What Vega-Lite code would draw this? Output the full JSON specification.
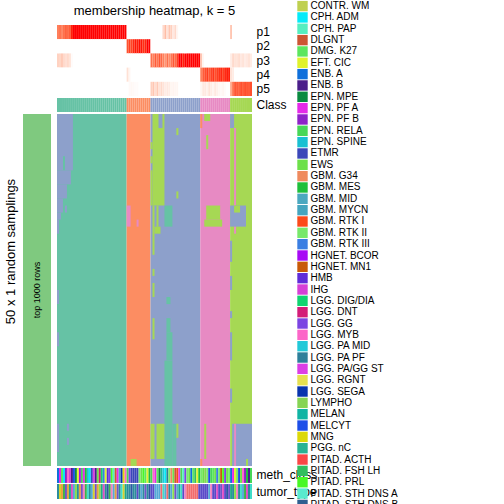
{
  "$schema": "https://vega.github.io/schema/vega-lite/v6.json",
  "padding": {"left": 4, "top": 0, "right": 0, "bottom": 0},
  "bounds": "flush",
  "config": {"view": {"stroke": null}, "font": "Liberation Sans", "axis": {"labelColor": "black", "titleColor": "black"}},
  "datasets": {
    "samples": [
      {"s":0,"p1":0.66,"p2":0,"p3":0.24,"p4":0,"p5":0,"cls":1,"meth":"ENB. A","tumor":"Glioblastoma"},
      {"s":1,"p1":0.70,"p2":0,"p3":0.22,"p4":0,"p5":0,"cls":1,"meth":"EPN. PF A","tumor":"Embryonal"},
      {"s":2,"p1":0.62,"p2":0,"p3":0.28,"p4":0,"p5":0,"cls":1,"meth":"DMG. K27","tumor":"Ependymal"},
      {"s":3,"p1":0.72,"p2":0,"p3":0.20,"p4":0,"p5":0,"cls":1,"meth":"CPH. ADM","tumor":"Glioneuronal"},
      {"s":4,"p1":0.78,"p2":0,"p3":0.17,"p4":0,"p5":0,"cls":1,"meth":"EPN. PF B","tumor":"Pilocytic"},
      {"s":5,"p1":0.74,"p2":0,"p3":0.20,"p4":0,"p5":0,"cls":1,"meth":"LGG. MYB","tumor":"Ependymal"},
      {"s":6,"p1":0.80,"p2":0,"p3":0.15,"p4":0,"p5":0,"cls":1,"meth":"IHG","tumor":"Glioma"},
      {"s":7,"p1":0.97,"p2":0,"p3":0.02,"p4":0,"p5":0,"cls":1,"meth":"ENB. B","tumor":"Choroid"},
      {"s":8,"p1":1,"p2":0,"p3":0,"p4":0,"p5":0,"cls":1,"meth":"MELCYT","tumor":"Sellar"},
      {"s":9,"p1":1,"p2":0,"p3":0,"p4":0,"p5":0,"cls":1,"meth":"EPN. MPE","tumor":"Control"},
      {"s":10,"p1":1,"p2":0,"p3":0,"p4":0,"p5":0,"cls":1,"meth":"EFT. CIC","tumor":"Glioblastoma"},
      {"s":11,"p1":1,"p2":0,"p3":0,"p4":0,"p5":0,"cls":1,"meth":"HGNET. BCOR","tumor":"Ependymal"},
      {"s":12,"p1":1,"p2":0,"p3":0,"p4":0,"p5":0,"cls":1,"meth":"EPN. RELA","tumor":"Pilocytic"},
      {"s":13,"p1":1,"p2":0,"p3":0,"p4":0,"p5":0,"cls":1,"meth":"EPN. PF A","tumor":"Melanocytic"},
      {"s":14,"p1":1,"p2":0,"p3":0,"p4":0,"p5":0,"cls":1,"meth":"GBM. MES","tumor":"Glioneuronal"},
      {"s":15,"p1":1,"p2":0,"p3":0,"p4":0,"p5":0,"cls":1,"meth":"EPN. SPINE","tumor":"Mesenchymal"},
      {"s":16,"p1":1,"p2":0,"p3":0,"p4":0,"p5":0,"cls":1,"meth":"CPH. ADM","tumor":"Glioblastoma"},
      {"s":17,"p1":1,"p2":0,"p3":0,"p4":0,"p5":0,"cls":1,"meth":"ETMR","tumor":"Sellar"},
      {"s":18,"p1":1,"p2":0,"p3":0,"p4":0,"p5":0,"cls":1,"meth":"LGG. PA/GG ST","tumor":"Embryonal"},
      {"s":19,"p1":1,"p2":0,"p3":0,"p4":0,"p5":0,"cls":1,"meth":"ENB. B","tumor":"Pilocytic"},
      {"s":20,"p1":1,"p2":0,"p3":0,"p4":0,"p5":0,"cls":1,"meth":"EWS","tumor":"Ependymal"},
      {"s":21,"p1":1,"p2":0,"p3":0,"p4":0,"p5":0,"cls":1,"meth":"LGG. DNT","tumor":"Control"},
      {"s":22,"p1":1,"p2":0,"p3":0,"p4":0,"p5":0,"cls":1,"meth":"LGG. DIG/DIA","tumor":"Glioma"},
      {"s":23,"p1":1,"p2":0,"p3":0,"p4":0,"p5":0,"cls":1,"meth":"GBM. RTK III","tumor":"Choroid"},
      {"s":24,"p1":1,"p2":0,"p3":0,"p4":0,"p5":0,"cls":1,"meth":"EFT. CIC","tumor":"Glioblastoma"},
      {"s":25,"p1":1,"p2":0,"p3":0,"p4":0,"p5":0,"cls":1,"meth":"HMB","tumor":"Lymphoma"},
      {"s":26,"p1":1,"p2":0,"p3":0,"p4":0,"p5":0,"cls":1,"meth":"LGG. GG","tumor":"Glioneuronal"},
      {"s":27,"p1":1,"p2":0,"p3":0,"p4":0,"p5":0,"cls":1,"meth":"PITAD. PRL","tumor":"Melanocytic"},
      {"s":28,"p1":1,"p2":0,"p3":0,"p4":0,"p5":0,"cls":1,"meth":"CPH. PAP","tumor":"Sellar"},
      {"s":29,"p1":1,"p2":0,"p3":0,"p4":0,"p5":0,"cls":1,"meth":"DLGNT","tumor":"Ependymal"},
      {"s":30,"p1":1,"p2":0,"p3":0,"p4":0,"p5":0,"cls":1,"meth":"EPN. PF A","tumor":"Pilocytic"},
      {"s":31,"p1":1,"p2":0,"p3":0,"p4":0,"p5":0,"cls":1,"meth":"GBM. MID","tumor":"Glioblastoma"},
      {"s":32,"p1":1,"p2":0,"p3":0,"p4":0,"p5":0,"cls":1,"meth":"LGG. SEGA","tumor":"Mesenchymal"},
      {"s":33,"p1":1,"p2":0,"p3":0,"p4":0,"p5":0,"cls":1,"meth":"MNG","tumor":"Embryonal"},
      {"s":34,"p1":1,"p2":0,"p3":0,"p4":0,"p5":0,"cls":1,"meth":"LGG. MYB","tumor":"Glioma"},
      {"s":35,"p1":0,"p2":0.84,"p3":0,"p4":0.16,"p5":0,"cls":2,"meth":"EPN. RELA","tumor":"Glioblastoma"},
      {"s":36,"p1":0,"p2":0.90,"p3":0,"p4":0.05,"p5":0.03,"cls":2,"meth":"LGG. GG","tumor":"Glioblastoma"},
      {"s":37,"p1":0,"p2":0.88,"p3":0,"p4":0,"p5":0.04,"cls":2,"meth":"ETMR","tumor":"Lymphoma"},
      {"s":38,"p1":0,"p2":0.95,"p3":0,"p4":0,"p5":0.03,"cls":2,"meth":"ETMR","tumor":"Glioblastoma"},
      {"s":39,"p1":0,"p2":0.98,"p3":0,"p4":0,"p5":0.02,"cls":2,"meth":"ETMR","tumor":"Glioblastoma"},
      {"s":40,"p1":0,"p2":0.97,"p3":0,"p4":0,"p5":0.02,"cls":2,"meth":"ETMR","tumor":"Pineal"},
      {"s":41,"p1":0,"p2":0.99,"p3":0,"p4":0,"p5":0,"cls":2,"meth":"GBM. RTK II","tumor":"Glioblastoma"},
      {"s":42,"p1":0,"p2":0.98,"p3":0,"p4":0,"p5":0,"cls":2,"meth":"EWS","tumor":"Sellar"},
      {"s":43,"p1":0,"p2":0.94,"p3":0,"p4":0,"p5":0,"cls":2,"meth":"PITAD. PRL","tumor":"Glioblastoma"},
      {"s":44,"p1":0,"p2":0.96,"p3":0,"p4":0,"p5":0,"cls":2,"meth":"DMG. K27","tumor":"Pilocytic"},
      {"s":45,"p1":0,"p2":1,"p3":0,"p4":0,"p5":0,"cls":2,"meth":"EFT. CIC","tumor":"Glioblastoma"},
      {"s":46,"p1":0,"p2":1,"p3":0,"p4":0,"p5":0,"cls":2,"meth":"GBM. MES","tumor":"Lymphoma"},
      {"s":47,"p1":0,"p2":0,"p3":0.72,"p4":0,"p5":0.25,"cls":3,"meth":"EPN. RELA","tumor":"Pineal"},
      {"s":48,"p1":0,"p2":0,"p3":0.65,"p4":0,"p5":0.30,"cls":3,"meth":"LGG. MYB","tumor":"Pineal"},
      {"s":49,"p1":0,"p2":0,"p3":0.80,"p4":0,"p5":0.18,"cls":3,"meth":"EPN. PF A","tumor":"Sellar"},
      {"s":50,"p1":0,"p2":0,"p3":0.70,"p4":0,"p5":0.28,"cls":3,"meth":"DMG. K27","tumor":"Sellar"},
      {"s":51,"p1":0,"p2":0,"p3":0.82,"p4":0,"p5":0.15,"cls":3,"meth":"EPN. MPE","tumor":"Sellar"},
      {"s":52,"p1":0,"p2":0,"p3":0.75,"p4":0,"p5":0.20,"cls":3,"meth":"PGG. nC","tumor":"Pituitary"},
      {"s":53,"p1":0.20,"p2":0,"p3":0.65,"p4":0,"p5":0.15,"cls":3,"meth":"LGG. PA MID","tumor":"Mesenchymal"},
      {"s":54,"p1":0.35,"p2":0,"p3":0.55,"p4":0,"p5":0.10,"cls":3,"meth":"CPH. ADM","tumor":"Sellar"},
      {"s":55,"p1":0.15,"p2":0,"p3":0.72,"p4":0,"p5":0.12,"cls":3,"meth":"LGG. PA PF","tumor":"Pituitary"},
      {"s":56,"p1":0.30,"p2":0,"p3":0.60,"p4":0,"p5":0.10,"cls":3,"meth":"GBM. RTK II","tumor":"Glioblastoma"},
      {"s":57,"p1":0.25,"p2":0,"p3":0.70,"p4":0,"p5":0.05,"cls":3,"meth":"GBM. G34","tumor":"Sellar"},
      {"s":58,"p1":0.12,"p2":0,"p3":0.82,"p4":0,"p5":0.06,"cls":3,"meth":"EWS","tumor":"Control"},
      {"s":59,"p1":0.20,"p2":0,"p3":0.75,"p4":0,"p5":0.05,"cls":3,"meth":"DLGNT","tumor":"Pilocytic"},
      {"s":60,"p1":0.05,"p2":0,"p3":0.90,"p4":0,"p5":0.05,"cls":3,"meth":"GBM. RTK I","tumor":"Sellar"},
      {"s":61,"p1":0,"p2":0,"p3":1,"p4":0,"p5":0,"cls":3,"meth":"LGG. PA/GG ST","tumor":"Glioma"},
      {"s":62,"p1":0,"p2":0,"p3":1,"p4":0,"p5":0,"cls":3,"meth":"EPN. RELA","tumor":"Mesenchymal"},
      {"s":63,"p1":0,"p2":0,"p3":0.97,"p4":0,"p5":0,"cls":3,"meth":"CPH. PAP","tumor":"Pineal"},
      {"s":64,"p1":0,"p2":0,"p3":1,"p4":0,"p5":0,"cls":3,"meth":"LGG. GG","tumor":"Melanocytic"},
      {"s":65,"p1":0,"p2":0,"p3":1,"p4":0,"p5":0,"cls":3,"meth":"GBM. RTK II","tumor":"Pituitary"},
      {"s":66,"p1":0,"p2":0,"p3":1,"p4":0,"p5":0,"cls":3,"meth":"EWS","tumor":"Pituitary"},
      {"s":67,"p1":0,"p2":0,"p3":1,"p4":0,"p5":0,"cls":3,"meth":"ENB. A","tumor":"Pituitary"},
      {"s":68,"p1":0,"p2":0,"p3":1,"p4":0,"p5":0,"cls":3,"meth":"DMG. K27","tumor":"Pituitary"},
      {"s":69,"p1":0,"p2":0,"p3":1,"p4":0,"p5":0,"cls":3,"meth":"PITAD. FSH LH","tumor":"Pituitary"},
      {"s":70,"p1":0,"p2":0,"p3":1,"p4":0,"p5":0,"cls":3,"meth":"EFT. CIC","tumor":"Pituitary"},
      {"s":71,"p1":0,"p2":0,"p3":1,"p4":0,"p5":0,"cls":3,"meth":"GBM. MES","tumor":"Pineal"},
      {"s":72,"p1":0,"p2":0,"p3":0.30,"p4":0.65,"p5":0.05,"cls":4,"meth":"GBM. RTK II","tumor":"Pineal"},
      {"s":73,"p1":0,"p2":0,"p3":0.05,"p4":0.80,"p5":0.12,"cls":4,"meth":"EWS","tumor":"Pineal"},
      {"s":74,"p1":0,"p2":0,"p3":0,"p4":0.85,"p5":0.12,"cls":4,"meth":"LYMPHO","tumor":"Pineal"},
      {"s":75,"p1":0,"p2":0,"p3":0,"p4":0.90,"p5":0.08,"cls":4,"meth":"GBM. RTK II","tumor":"Pineal"},
      {"s":76,"p1":0,"p2":0,"p3":0,"p4":0.82,"p5":0.15,"cls":4,"meth":"MELCYT","tumor":"Sellar"},
      {"s":77,"p1":0,"p2":0,"p3":0,"p4":0.88,"p5":0.10,"cls":4,"meth":"EPN. RELA","tumor":"Melanocytic"},
      {"s":78,"p1":0,"p2":0,"p3":0,"p4":0.92,"p5":0.06,"cls":4,"meth":"DMG. K27","tumor":"Pineal"},
      {"s":79,"p1":0,"p2":0,"p3":0,"p4":0.85,"p5":0.12,"cls":4,"meth":"EWS","tumor":"Pineal"},
      {"s":80,"p1":0,"p2":0,"p3":0,"p4":0.90,"p5":0.08,"cls":4,"meth":"GBM. RTK III","tumor":"Choroid"},
      {"s":81,"p1":0,"p2":0,"p3":0,"p4":0.93,"p5":0.05,"cls":4,"meth":"GBM. RTK II","tumor":"Pineal"},
      {"s":82,"p1":0,"p2":0,"p3":0,"p4":0.95,"p5":0.03,"cls":4,"meth":"HGNET. MN1","tumor":"Pilocytic"},
      {"s":83,"p1":0,"p2":0,"p3":0,"p4":0.90,"p5":0.05,"cls":4,"meth":"PITAD. PRL","tumor":"Choroid"},
      {"s":84,"p1":0,"p2":0,"p3":0,"p4":0.95,"p5":0.02,"cls":4,"meth":"LGG. GG","tumor":"Pineal"},
      {"s":85,"p1":0,"p2":0,"p3":0,"p4":0.97,"p5":0,"cls":4,"meth":"EWS","tumor":"Lymphoma"},
      {"s":86,"p1":0,"p2":0,"p3":0,"p4":0.97,"p5":0,"cls":4,"meth":"GBM. RTK II","tumor":"Pilocytic"},
      {"s":87,"p1":0.30,"p2":0,"p3":0.10,"p4":0.15,"p5":0.45,"cls":5,"meth":"ENB. A","tumor":"Glioma"},
      {"s":88,"p1":0,"p2":0,"p3":0.20,"p4":0.10,"p5":0.70,"cls":5,"meth":"EPN. PF A","tumor":"Glioblastoma"},
      {"s":89,"p1":0,"p2":0,"p3":0.15,"p4":0,"p5":0.82,"cls":5,"meth":"EFT. CIC","tumor":"Control"},
      {"s":90,"p1":0,"p2":0,"p3":0.15,"p4":0,"p5":0.80,"cls":5,"meth":"GBM. RTK II","tumor":"Melanocytic"},
      {"s":91,"p1":0,"p2":0,"p3":0.18,"p4":0,"p5":0.78,"cls":5,"meth":"MELCYT","tumor":"Glioblastoma"},
      {"s":92,"p1":0,"p2":0,"p3":0.12,"p4":0,"p5":0.85,"cls":5,"meth":"EWS","tumor":"Mesenchymal"},
      {"s":93,"p1":0,"p2":0,"p3":0.15,"p4":0,"p5":0.80,"cls":5,"meth":"LGG. MYB","tumor":"Sellar"},
      {"s":94,"p1":0,"p2":0,"p3":0.10,"p4":0,"p5":0.85,"cls":5,"meth":"EPN. PF B","tumor":"Glioneuronal"},
      {"s":95,"p1":0,"p2":0,"p3":0.12,"p4":0,"p5":0.82,"cls":5,"meth":"GBM. MES","tumor":"Choroid"},
      {"s":96,"p1":0,"p2":0,"p3":0.15,"p4":0,"p5":0.80,"cls":5,"meth":"ENB. B","tumor":"Glioblastoma"},
      {"s":97,"p1":0,"p2":0,"p3":0.10,"p4":0,"p5":0.85,"cls":5,"meth":"EPN. RELA","tumor":"Mesenchymal"}
    ],
    "runs": [
      {"s0":0,"s1":35,"r0":0,"r1":50,"cls":1},
      {"s0":35,"s1":47,"r0":0,"r1":50,"cls":2},
      {"s0":47,"s1":72,"r0":0,"r1":50,"cls":3},
      {"s0":72,"s1":87,"r0":0,"r1":50,"cls":4},
      {"s0":87,"s1":98,"r0":0,"r1":50,"cls":5},
      {"s0":0,"s1":8,"r0":0,"r1":8,"cls":3},
      {"s0":3,"s1":4,"r0":6,"r1":9,"cls":1},
      {"s0":0,"s1":7,"r0":8,"r1":10,"cls":3},
      {"s0":0,"s1":5,"r0":10,"r1":12,"cls":3},
      {"s0":0,"s1":3,"r0":12,"r1":14,"cls":3},
      {"s0":4,"s1":5,"r0":13,"r1":14,"cls":3},
      {"s0":0,"s1":2,"r0":14,"r1":15,"cls":3},
      {"s0":0,"s1":1,"r0":15,"r1":17,"cls":3},
      {"s0":0,"s1":1,"r0":25,"r1":27,"cls":3},
      {"s0":0,"s1":1,"r0":31,"r1":33,"cls":3},
      {"s0":0,"s1":1,"r0":44,"r1":48,"cls":3},
      {"s0":5,"s1":6,"r0":44,"r1":45,"cls":3},
      {"s0":5,"s1":6,"r0":46,"r1":47,"cls":3},
      {"s0":35,"s1":37,"r0":13,"r1":16,"cls":4},
      {"s0":40,"s1":41,"r0":15,"r1":16,"cls":4},
      {"s0":37,"s1":40,"r0":49,"r1":50,"cls":5},
      {"s0":48,"s1":54,"r0":0,"r1":13,"cls":5},
      {"s0":51,"s1":53,"r0":0,"r1":2,"cls":3},
      {"s0":47,"s1":48,"r0":4,"r1":5,"cls":5},
      {"s0":47,"s1":48,"r0":6,"r1":7,"cls":5},
      {"s0":47,"s1":48,"r0":8,"r1":13,"cls":5},
      {"s0":48,"s1":49,"r0":13,"r1":20,"cls":5},
      {"s0":50,"s1":51,"r0":13,"r1":16,"cls":5},
      {"s0":49,"s1":52,"r0":16,"r1":17,"cls":5},
      {"s0":48,"s1":49,"r0":22,"r1":23,"cls":5},
      {"s0":60,"s1":61,"r0":2,"r1":3,"cls":5},
      {"s0":60,"s1":61,"r0":11,"r1":12,"cls":5},
      {"s0":54,"s1":58,"r0":13,"r1":16,"cls":1},
      {"s0":48,"s1":49,"r0":24,"r1":26,"cls":5},
      {"s0":48,"s1":49,"r0":29,"r1":32,"cls":5},
      {"s0":55,"s1":57,"r0":26,"r1":27,"cls":1},
      {"s0":55,"s1":57,"r0":29,"r1":31,"cls":1},
      {"s0":55,"s1":58,"r0":31,"r1":35,"cls":1},
      {"s0":54,"s1":58,"r0":35,"r1":50,"cls":1},
      {"s0":58,"s1":60,"r0":44,"r1":50,"cls":1},
      {"s0":47,"s1":49,"r0":44,"r1":49,"cls":5},
      {"s0":50,"s1":54,"r0":44,"r1":49,"cls":5},
      {"s0":60,"s1":61,"r0":44,"r1":46,"cls":5},
      {"s0":72,"s1":73,"r0":0,"r1":2,"cls":2},
      {"s0":72,"s1":73,"r0":49,"r1":50,"cls":2},
      {"s0":74,"s1":77,"r0":0,"r1":1,"cls":5},
      {"s0":75,"s1":76,"r0":3,"r1":5,"cls":5},
      {"s0":75,"s1":82,"r0":13,"r1":15,"cls":5},
      {"s0":74,"s1":83,"r0":15,"r1":16,"cls":5},
      {"s0":74,"s1":75,"r0":44,"r1":49,"cls":5},
      {"s0":87,"s1":89,"r0":0,"r1":2,"cls":3},
      {"s0":89,"s1":90,"r0":2,"r1":17,"cls":4},
      {"s0":87,"s1":95,"r0":13,"r1":16,"cls":3},
      {"s0":89,"s1":92,"r0":13,"r1":14,"cls":5},
      {"s0":87,"s1":88,"r0":18,"r1":21,"cls":3},
      {"s0":87,"s1":88,"r0":23,"r1":25,"cls":3},
      {"s0":87,"s1":88,"r0":28,"r1":29,"cls":3},
      {"s0":87,"s1":88,"r0":31,"r1":35,"cls":3},
      {"s0":87,"s1":88,"r0":39,"r1":41,"cls":3},
      {"s0":88,"s1":98,"r0":44,"r1":50,"cls":3},
      {"s0":89,"s1":90,"r0":44,"r1":50,"cls":4},
      {"s0":95,"s1":96,"r0":49,"r1":50,"cls":5}
    ],
    "methLegend": [
      {"name":"CONTR. WM"},{"name":"CPH. ADM"},{"name":"CPH. PAP"},{"name":"DLGNT"},{"name":"DMG. K27"},
      {"name":"EFT. CIC"},{"name":"ENB. A"},{"name":"ENB. B"},{"name":"EPN. MPE"},{"name":"EPN. PF A"},
      {"name":"EPN. PF B"},{"name":"EPN. RELA"},{"name":"EPN. SPINE"},{"name":"ETMR"},{"name":"EWS"},
      {"name":"GBM. G34"},{"name":"GBM. MES"},{"name":"GBM. MID"},{"name":"GBM. MYCN"},{"name":"GBM. RTK I"},
      {"name":"GBM. RTK II"},{"name":"GBM. RTK III"},{"name":"HGNET. BCOR"},{"name":"HGNET. MN1"},{"name":"HMB"},
      {"name":"IHG"},{"name":"LGG. DIG/DIA"},{"name":"LGG. DNT"},{"name":"LGG. GG"},{"name":"LGG. MYB"},
      {"name":"LGG. PA MID"},{"name":"LGG. PA PF"},{"name":"LGG. PA/GG ST"},{"name":"LGG. RGNT"},{"name":"LGG. SEGA"},
      {"name":"LYMPHO"},{"name":"MELAN"},{"name":"MELCYT"},{"name":"MNG"},{"name":"PGG. nC"},
      {"name":"PITAD. ACTH"},{"name":"PITAD. FSH LH"},{"name":"PITAD. PRL"},{"name":"PITAD. STH DNS A"},{"name":"PITAD. STH DNS B"}
    ]
  },
  "resolve": {"scale": {"color": "independent"}},
  "spacing": 274.5,
  "hconcat": [
    {
      "columns": 2,
      "align": "each",
      "spacing": {"row": 2, "column": 6},
      "resolve": {"scale": {"color": "independent"}},
      "concat": [
        {"width": 28, "height": 2, "data": {"values": []}, "mark": "rect", "encoding": {}},
        {"width": 195, "height": 2, "data": {"values": []}, "mark": "rect", "encoding": {}},
        {"width": 28, "height": 71, "data": {"values": []}, "mark": "rect", "encoding": {}},
        {
          "width": 195, "height": 71,
          "title": {"text": "membership heatmap, k = 5", "fontSize": 13, "fontWeight": "normal", "anchor": "middle", "offset": 7, "color": "black"},
          "data": {"name": "samples"},
          "transform": [{"fold": ["p1", "p2", "p3", "p4", "p5"], "as": ["key", "value"]}],
          "mark": "rect",
          "encoding": {
            "x": {"field": "s", "type": "ordinal", "scale": {"paddingInner": 0, "paddingOuter": 0}, "axis": null},
            "y": {"field": "key", "type": "nominal", "scale": {"paddingInner": 0, "paddingOuter": 0}, "axis": {"orient": "right", "title": null, "ticks": false, "domain": false, "labelPadding": 4, "labelFontSize": 12}},
            "color": {"field": "value", "type": "quantitative", "scale": {"domain": [0, 1], "range": ["#ffffff", "#ff0000"], "interpolate": "lab"}, "legend": null}
          }
        },
        {"width": 28, "height": 14, "data": {"values": []}, "mark": "rect", "encoding": {}},
        {
          "width": 195, "height": 14,
          "data": {"name": "samples"},
          "mark": "rect",
          "encoding": {
            "x": {"field": "s", "type": "ordinal", "scale": {"paddingInner": 0, "paddingOuter": 0}, "axis": null},
            "y": {"datum": "Class", "type": "nominal", "scale": {"paddingInner": 0, "paddingOuter": 0}, "axis": {"orient": "right", "title": null, "ticks": false, "domain": false, "labelPadding": 4, "labelFontSize": 12}},
            "color": {"field": "cls", "type": "nominal", "scale": {"domain": [1, 2, 3, 4, 5], "range": ["#66C2A5", "#FC8D62", "#8DA0CB", "#E78AC3", "#A6D854"]}, "legend": null}
          }
        },
        {
          "width": 28, "height": 352,
          "data": {"values": [{"group": "top 1000 rows"}]},
          "encoding": {
            "y": {"field": "group", "type": "nominal", "scale": {"paddingInner": 0, "paddingOuter": 0},
                  "axis": {"title": "50 x 1 random samplings", "labels": false, "ticks": false, "domain": false, "titleFontSize": 13, "titleFontWeight": "normal", "titlePadding": 6, "titleY": 137}}
          },
          "layer": [
            {"mark": {"type": "rect", "color": "#7FC97F"}},
            {"mark": {"type": "text", "angle": 270, "fontSize": 9, "color": "black"}, "encoding": {"text": {"field": "group"}}}
          ]
        },
        {
          "width": 195, "height": 352,
          "data": {"name": "runs"},
          "mark": "rect",
          "encoding": {
            "x": {"field": "s0", "type": "quantitative", "scale": {"domain": [0, 98], "nice": false, "zero": false}, "axis": null},
            "x2": {"field": "s1"},
            "y": {"field": "r0", "type": "quantitative", "scale": {"domain": [0, 50], "nice": false, "zero": false, "reverse": true}, "axis": null},
            "y2": {"field": "r1"},
            "color": {"field": "cls", "type": "nominal", "scale": {"domain": [1, 2, 3, 4, 5], "range": ["#66C2A5", "#FC8D62", "#8DA0CB", "#E78AC3", "#A6D854"]}, "legend": null}
          }
        },
        {"width": 28, "height": 31, "data": {"values": []}, "mark": "rect", "encoding": {}},
        {
          "width": 195, "height": 31,
          "data": {"name": "samples"},
          "encoding": {
            "x": {"field": "s", "type": "ordinal", "scale": {"paddingInner": 0, "paddingOuter": 0}, "axis": null}
          },
          "resolve": {"scale": {"color": "independent"}},
          "layer": [
            {
              "mark": "rect",
              "encoding": {
                "y": {"datum": "meth_class", "type": "nominal", "scale": {"domain": ["meth_class", "tumor_type"], "paddingInner": 0.07, "paddingOuter": 0}, "axis": {"orient": "right", "title": null, "ticks": false, "domain": false, "labelPadding": 4, "labelFontSize": 12}},
                "color": {"field": "meth", "type": "nominal",
                  "scale": {"domain": ["CONTR. WM","CPH. ADM","CPH. PAP","DLGNT","DMG. K27","EFT. CIC","ENB. A","ENB. B","EPN. MPE","EPN. PF A","EPN. PF B","EPN. RELA","EPN. SPINE","ETMR","EWS","GBM. G34","GBM. MES","GBM. MID","GBM. MYCN","GBM. RTK I","GBM. RTK II","GBM. RTK III","HGNET. BCOR","HGNET. MN1","HMB","IHG","LGG. DIG/DIA","LGG. DNT","LGG. GG","LGG. MYB","LGG. PA MID","LGG. PA PF","LGG. PA/GG ST","LGG. RGNT","LGG. SEGA","LYMPHO","MELAN","MELCYT","MNG","PGG. nC","PITAD. ACTH","PITAD. FSH LH","PITAD. PRL","PITAD. STH DNS A","PITAD. STH DNS B"],
                            "range": ["#BFD050","#05EAF8","#55EEC0","#CC5533","#5CE65E","#E0F22C","#0E6FDB","#4A1E8A","#0A8A40","#E52AE8","#8E22C8","#47D757","#19C0D2","#3B47B9","#6DE04A","#EF8A5E","#1FBF3B","#4BA8C0","#45A5BF","#FC4A1A","#78E86B","#3A7EE2","#A70AF5","#C85A08","#5F2CD8","#D740D6","#10D470","#D41C78","#7B44E2","#FC66C8","#22C9D8","#2D7F9A","#DC3EE6","#E6E050","#0834AE","#86D454","#10B4A4","#1D4EE8","#DCD80A","#28B293","#FB4646","#31BE5E","#48F824","#5AEACE","#2F5F90"]},
                  "legend": null}
              }
            },
            {
              "mark": "rect",
              "encoding": {
                "y": {"datum": "tumor_type", "type": "nominal"},
                "color": {"field": "tumor", "type": "nominal",
                  "scale": {"domain": ["Glioblastoma","Ependymal","Embryonal","Glioneuronal","Pilocytic","Sellar","Pituitary","Mesenchymal","Choroid","Lymphoma","Control","Melanocytic","Pineal","Glioma"],
                            "range": ["#2B8C9C","#E6A13E","#D6D12A","#3DB34A","#7352C8","#55A9D6","#F26B6B","#3FDCC8","#E04DC4","#2F55A5","#88E04A","#F47FC0","#5A4AC8","#1FA88A"]},
                  "legend": null}
              }
            }
          ]
        }
      ]
    },
    {
      "width": 10, "height": 509,
      "data": {"name": "methLegend"},
      "encoding": {
        "y": {"field": "name", "type": "nominal", "sort": null, "scale": {"type": "point", "padding": 0.45}, "axis": null}
      },
      "layer": [
        {
          "mark": {"type": "square", "size": 108, "opacity": 1},
          "encoding": {
            "color": {"field": "name", "type": "nominal",
              "scale": {"domain": ["CONTR. WM","CPH. ADM","CPH. PAP","DLGNT","DMG. K27","EFT. CIC","ENB. A","ENB. B","EPN. MPE","EPN. PF A","EPN. PF B","EPN. RELA","EPN. SPINE","ETMR","EWS","GBM. G34","GBM. MES","GBM. MID","GBM. MYCN","GBM. RTK I","GBM. RTK II","GBM. RTK III","HGNET. BCOR","HGNET. MN1","HMB","IHG","LGG. DIG/DIA","LGG. DNT","LGG. GG","LGG. MYB","LGG. PA MID","LGG. PA PF","LGG. PA/GG ST","LGG. RGNT","LGG. SEGA","LYMPHO","MELAN","MELCYT","MNG","PGG. nC","PITAD. ACTH","PITAD. FSH LH","PITAD. PRL","PITAD. STH DNS A","PITAD. STH DNS B"],
                        "range": ["#BFD050","#05EAF8","#55EEC0","#CC5533","#5CE65E","#E0F22C","#0E6FDB","#4A1E8A","#0A8A40","#E52AE8","#8E22C8","#47D757","#19C0D2","#3B47B9","#6DE04A","#EF8A5E","#1FBF3B","#4BA8C0","#45A5BF","#FC4A1A","#78E86B","#3A7EE2","#A70AF5","#C85A08","#5F2CD8","#D740D6","#10D470","#D41C78","#7B44E2","#FC66C8","#22C9D8","#2D7F9A","#DC3EE6","#E6E050","#0834AE","#86D454","#10B4A4","#1D4EE8","#DCD80A","#28B293","#FB4646","#31BE5E","#48F824","#5AEACE","#2F5F90"]},
              "legend": null}
          }
        },
        {
          "mark": {"type": "text", "align": "left", "baseline": "middle", "dx": 8, "fontSize": 10, "color": "black"},
          "encoding": {"text": {"field": "name"}}
        }
      ]
    }
  ]
}
